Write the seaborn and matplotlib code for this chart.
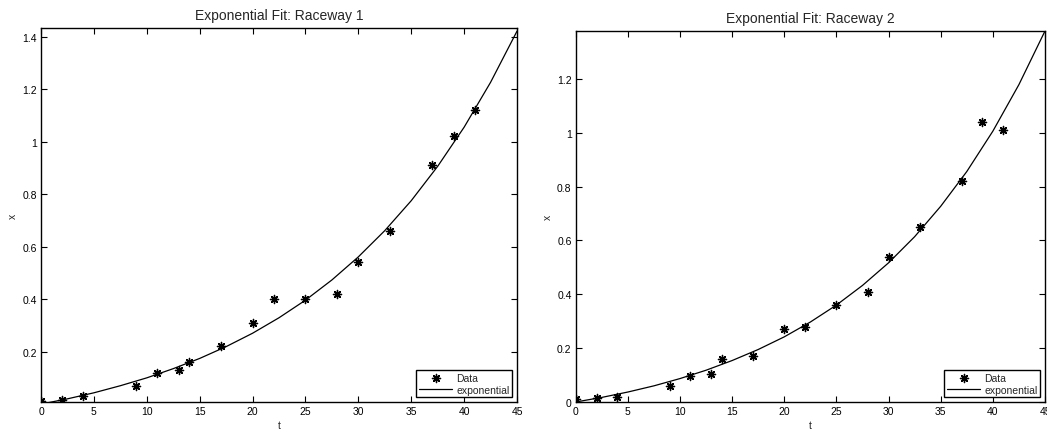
import numpy as np
import pandas as pd
import seaborn as sns
import matplotlib.pyplot as plt

# =========================================================
# DATA
# =========================================================
t_data = [0, 2, 4, 9, 11, 13, 14, 17, 20, 22, 25, 28, 30, 33, 37, 39, 41]

x_data_1 = [0.01, 0.015, 0.03, 0.07, 0.12, 0.13, 0.16, 0.22, 0.31, 0.40,
            0.40, 0.42, 0.54, 0.66, 0.91, 1.02, 1.12]
x_data_2 = [0.01, 0.015, 0.02, 0.06, 0.095, 0.105, 0.158, 0.17, 0.27, 0.28,
            0.36, 0.41, 0.54, 0.65, 0.82, 1.04, 1.01]

# fitted curve, read at every 2.5 on the t axis
t_fit = [0, 2.5, 5, 7.5, 10, 12.5, 15, 17.5, 20, 22.5, 25, 27.5, 30, 32.5,
         35, 37.5, 40, 42.5, 45]
x_fit_1 = [0.0, 0.020, 0.043, 0.070, 0.100, 0.135, 0.174, 0.219, 0.270,
           0.329, 0.396, 0.473, 0.561, 0.661, 0.775, 0.906, 1.055, 1.226, 1.421]
x_fit_2 = [0.0, 0.017, 0.037, 0.060, 0.087, 0.118, 0.154, 0.195, 0.242,
           0.297, 0.360, 0.433, 0.517, 0.614, 0.727, 0.856, 1.006, 1.179, 1.378]

titles = ['Exponential Fit: Raceway 1', 'Exponential Fit: Raceway 2']
x_ticks = [0, 5, 10, 15, 20, 25, 30, 35, 40, 45]
y_ticks_1 = [0.2, 0.4, 0.6, 0.8, 1, 1.2, 1.4]
y_ticks_2 = [0, 0.2, 0.4, 0.6, 0.8, 1, 1.2]
y_limits = [(0.008, 1.433), (0.0, 1.378)]

# =========================================================
# STYLE
# =========================================================
sns.set_style('ticks')
plt.rcParams['font.family'] = ['Liberation Sans', 'DejaVu Sans']
plt.rcParams['axes.linewidth'] = 1.0

fig = plt.figure(figsize=(10.47, 4.31), dpi=100)
ax1 = fig.add_axes([0.0392, 0.065, 0.4546, 0.8677])
ax2 = fig.add_axes([0.5499, 0.065, 0.4482, 0.8608])

panels = [(ax1, x_data_1, x_fit_1, y_ticks_1),
          (ax2, x_data_2, x_fit_2, y_ticks_2)]

for i, (ax, xd, xf, yt) in enumerate(panels):
    df_data = pd.DataFrame({'t': t_data, 'x': xd})
    df_fit = pd.DataFrame({'t': t_fit, 'x': xf})

    sns.scatterplot(data=df_data, x='t', y='x', ax=ax, marker=(8, 2, 0),
                    s=34, color='k', linewidth=1.0, label='Data', zorder=3)
    sns.lineplot(data=df_fit, x='t', y='x', ax=ax, color='k', linewidth=0.9,
                 label='exponential', zorder=2)

    ax.set_xticks(x_ticks)
    ax.set_yticks(yt)
    ax.set_xticklabels([str(v) for v in x_ticks])
    ax.set_yticklabels([f'{v:g}' for v in yt])
    # limits after the ticks, so set_yticks does not stretch them
    ax.set_xlim(0, 45)
    ax.set_ylim(*y_limits[i])
    ax.tick_params(direction='in', length=4, width=0.8, top=True, right=True,
                   labelsize=7.5, pad=3, colors='k')
    for sp in ax.spines.values():
        sp.set_visible(True)
        sp.set_color('k')

    ax.set_title(titles[i], fontsize=10, pad=6.5)
    ax.set_xlabel('t', fontsize=7.5, labelpad=3)
    ax.set_ylabel('x', fontsize=7.5, labelpad=3)

    leg = ax.legend(loc='lower right', fontsize=7.5, frameon=True,
                    fancybox=False, edgecolor='k', framealpha=1,
                    borderaxespad=0.45, handlelength=3.2, handletextpad=0.4,
                    borderpad=0.25, labelspacing=0.2)
    leg.get_frame().set_linewidth(1.0)

fig.savefig('out.png', dpi=100)
